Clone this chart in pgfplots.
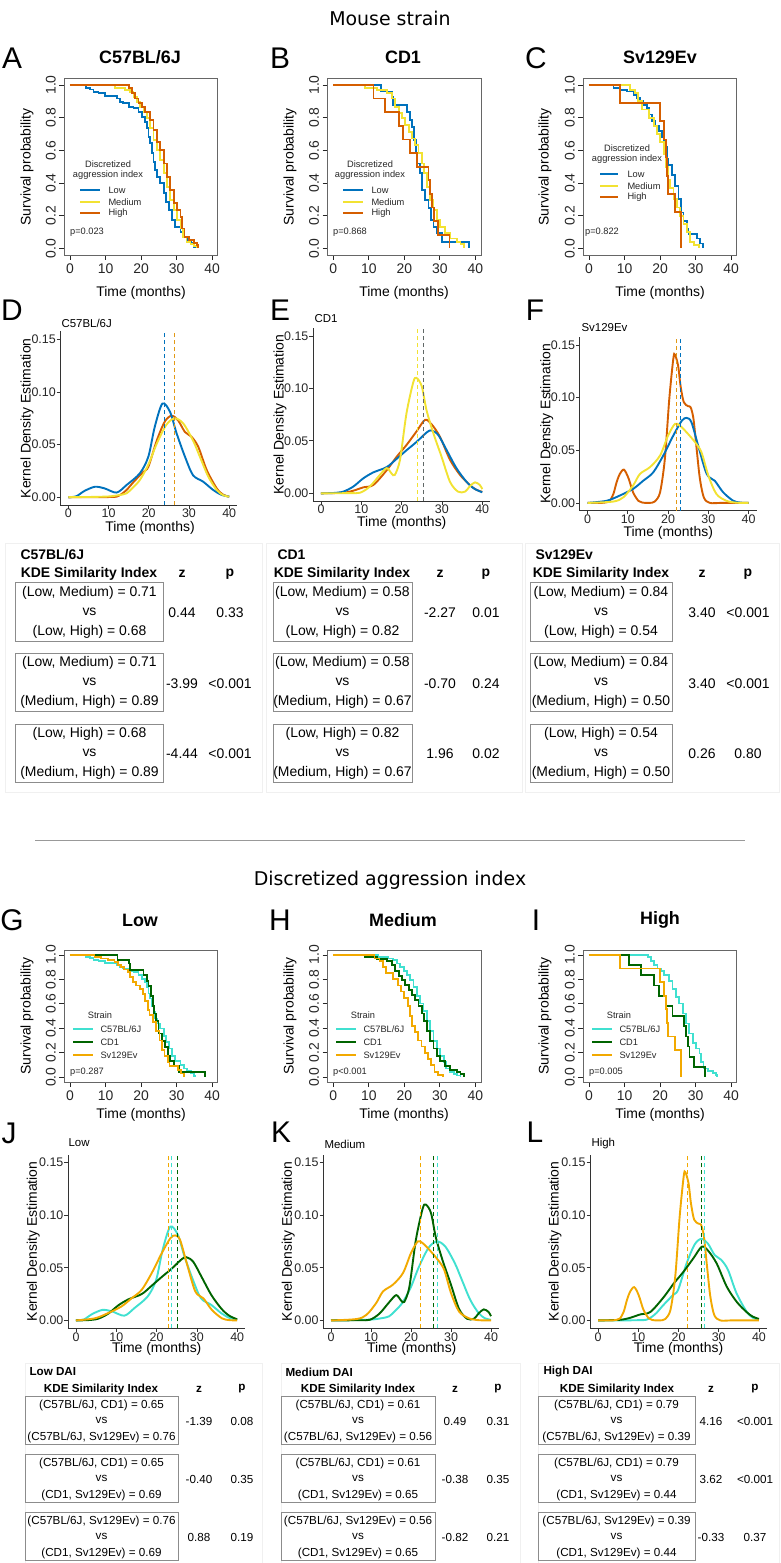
\documentclass[border=0pt]{standalone}
\usepackage{pgfplots}
\pgfplotsset{compat=1.18}
\usepackage{pgfplotstable}
\usepackage{fontspec}
\setmainfont{Liberation Sans}
\newfontfamily\dejavu{DejaVu Sans}
\newcommand{\fs}[1]{\fontsize{#1}{#1}\selectfont}

\definecolor{lowc}{RGB}{0,114,189}
\definecolor{medc}{RGB}{242,226,50}
\definecolor{highc}{RGB}{213,94,0}
\definecolor{c57c}{RGB}{64,224,208}
\definecolor{cd1c}{RGB}{0,100,0}
\definecolor{svc}{RGB}{242,169,0}

% ---------------- Kaplan-Meier curves (time, survival) ----------------
\pgfplotstableread{
t s
0 1
4.5 0.984
5.6 0.973
6.6 0.959
8 0.949
9.9 0.933
13.2 0.918
14.1 0.898
15 0.888
16.5 0.867
17.9 0.857
19.3 0.837
20.2 0.806
21.2 0.776
21.6 0.735
22.1 0.684
22.6 0.643
23.1 0.582
23.5 0.531
24 0.480
24.5 0.439
25.4 0.398
26.4 0.337
27 0.286
27.8 0.235
28.7 0.173
29.6 0.133
31.1 0.102
32 0.071
32.9 0.051
34.1 0.031
34.8 0.010
35.1 0
}\kmCL
\pgfplotstableread{
t s
0 1
12.7 0.980
15.5 0.970
16.9 0.959
17.9 0.929
18.8 0.898
19.8 0.867
20.7 0.837
21.6 0.796
22.6 0.735
23.5 0.663
24.5 0.602
25.4 0.541
26.4 0.459
27.3 0.378
28.2 0.296
29.2 0.235
30.1 0.173
31.1 0.122
31.8 0.071
32.8 0.041
33.9 0.027
34.8 0.014
35.8 0
}\kmCM
\pgfplotstableread{
t s
0 1
16.5 0.980
17.4 0.949
18.4 0.918
19.3 0.888
20.2 0.867
21.2 0.837
22.6 0.786
23.5 0.724
24.5 0.653
25.4 0.602
26.4 0.520
27.3 0.439
28.2 0.357
29.2 0.276
30.1 0.235
31.1 0.194
31.5 0.122
32.2 0.071
33.4 0.051
34.8 0.031
35.8 0.020
36 0
}\kmCH
\pgfplotstableread{
t s
0 1
13.4 0.96
16.5 0.929
16.9 0.878
20.7 0.837
21.6 0.786
22.1 0.745
22.8 0.663
23.3 0.582
23.7 0.520
24.3 0.459
24.9 0.357
25.9 0.296
26.8 0.245
27.5 0.173
28.2 0.133
29.2 0.092
30.6 0.041
38.1 0
}\kmDL
\pgfplotstableread{
t s
0 1
8.9 0.980
12.2 0.969
15.1 0.949
16.5 0.918
17.4 0.867
18.4 0.827
19.3 0.796
20.2 0.755
21.2 0.714
22.1 0.673
23.1 0.633
24 0.582
24.9 0.520
25.6 0.459
26.4 0.378
27.3 0.296
28.2 0.235
29.2 0.173
30.1 0.133
31.5 0.092
32.9 0.061
34.8 0.041
35.8 0.027
36.7 0
}\kmDM
\pgfplotstableread{
t s
0 1
11.3 0.917
14.6 0.833
18.4 0.750
19.6 0.667
21.6 0.583
23.5 0.500
26.8 0.417
27.3 0.333
27.8 0.250
28.3 0.167
29.5 0.083
32.7 0
}\kmDH
\pgfplotstableread{
t s
0 1
6.9 0.98
8.75 0.97
10.6 0.96
12.5 0.94
13.5 0.92
14.4 0.90
15.3 0.88
16.3 0.86
16.8 0.82
17.7 0.78
18.6 0.75
19.6 0.72
20.5 0.68
21.2 0.62
21.9 0.55
22.4 0.51
23.3 0.45
24.3 0.38
25.2 0.30
25.9 0.22
26.6 0.17
27.6 0.12
28 0.09
30.4 0.06
31.3 0.03
32.1 0
}\kmSL
\pgfplotstableread{
t s
0 1
11.6 0.97
13 0.95
13.9 0.90
14.9 0.85
16.8 0.80
18.2 0.75
19.1 0.70
20 0.65
21 0.58
21.6 0.50
22.2 0.42
22.9 0.37
23.8 0.30
24.8 0.25
25.7 0.20
26.6 0.15
27.6 0.10
28.5 0.04
29.5 0.02
30.9 0
}\kmSM
\pgfplotstableread{
t s
0 1
8.75 0.889
20 0.778
21.2 0.667
21.6 0.556
22 0.444
22.2 0.333
24.3 0.222
25.9 0
}\kmSH

% ---------------- Kernel density estimates (time, density) ----------------
\pgfplotstableread{
t d
0 0.0000
2 0.0010
4 0.0060
6.6 0.0100
9 0.0085
12 0.0045
14.5 0.0117
17.8 0.0228
19.9 0.0386
21.5 0.0670
23.4 0.0890
25.3 0.0810
26.9 0.0610
29 0.0386
31 0.0210
33.5 0.0149
36 0.0070
38 0.0025
40 0.0006
}\kdCL
\pgfplotstableread{
t d
0 0.0002
5 0.0003
10 0.0008
12.5 0.0020
14.5 0.0038
16 0.0090
17.8 0.0165
19.9 0.0310
22 0.0510
24.4 0.0690
26.5 0.0750
28.6 0.0700
31 0.0540
32.7 0.0386
34.8 0.0196
36.9 0.0070
38.5 0.0020
40 0.0006
}\kdCM
\pgfplotstableread{
t d
0 0
8 0.0001
10.5 0.0003
12 0.0006
13.2 0.0030
14.5 0.0070
16.1 0.0140
18.6 0.0240
19.9 0.0290
22 0.0540
24 0.0720
25.7 0.0775
27.3 0.0730
29 0.0620
30.6 0.0576
32.3 0.0480
34.4 0.0260
36.9 0.0085
38.5 0.0025
40 0.0006
}\kdCH
\pgfplotstableread{
t d
0 0
3 0.0003
5.5 0.0016
8 0.0064
10.5 0.0143
13 0.0200
16.3 0.0250
18.8 0.0330
21.2 0.0410
23.7 0.0490
26.2 0.0580
27.4 0.0600
29.1 0.0556
31.2 0.0410
33.6 0.0240
36.1 0.0110
38 0.0045
40 0.0010
}\kdDL
\pgfplotstableread{
t d
0 0
7 0.0002
9.7 0.0006
12.1 0.0064
14.6 0.0175
16.3 0.0240
17.5 0.0190
18.3 0.0175
19.6 0.0320
21.2 0.0760
22.9 0.1060
23.7 0.1100
25 0.1020
26.2 0.0790
27.9 0.0570
29.9 0.0350
32 0.0110
34 0.0016
35.7 0.0016
37 0.0070
38.2 0.0105
39.4 0.0080
40 0.0040
}\kdDM
\pgfplotstableread{
t d
0 0
5.5 0.0006
8 0.0025
10.5 0.0057
13 0.0080
16.3 0.0220
18.8 0.0350
21.2 0.0460
23.7 0.0590
25.8 0.0700
27.4 0.0660
29.5 0.0540
32 0.0320
34.5 0.0175
36.9 0.0080
38.5 0.0035
40 0.0014
}\kdDH
\pgfplotstableread{
t d
0 0
4.7 0.0020
8 0.0070
11.3 0.0133
13.8 0.0210
16.3 0.0290
18.8 0.0450
21.3 0.0640
23.4 0.0780
24.6 0.0807
25.8 0.0766
27.5 0.0540
29.6 0.0275
31.6 0.0210
33.7 0.0100
36.2 0.0020
38 0.0003
40 0
}\kdSL
\pgfplotstableread{
t d
0 0
6.4 0.0013
8.9 0.0054
11.3 0.0165
13 0.0275
15.5 0.0340
18 0.0450
20 0.0640
21.7 0.0750
22.9 0.0734
24.6 0.0670
26.7 0.0576
28.3 0.0480
30 0.0260
32 0.0085
34.5 0.0020
37 0.0002
40 0
}\kdSM
\pgfplotstableread{
t d
0 0
3 0
4 0.0002
4.7 0.0006
5.5 0.0020
6.4 0.0085
7.2 0.0196
8.0 0.0275
9.0 0.0316
10.1 0.0240
11.3 0.0100
12.6 0.0020
13.5 0.0004
14.7 0
16 0.0002
16.7 0.0013
18 0.0100
19.2 0.0420
20.3 0.0990
21.3 0.1370
21.7 0.1408
22.5 0.1300
23.1 0.1110
23.9 0.0956
25 0.0918
25.6 0.0908
26.3 0.0800
27.1 0.0510
27.9 0.0230
28.9 0.0050
30.4 0
33 0
36 0
40 0
}\kdSH

\pgfplotsset{
  km/.style={scale only axis, width=153.5bp, xmin=-1.6, xmax=41.6, ymin=-0.04, ymax=1.04,
    axis line style={black!60, line width=0.8bp},
    xtick={0,10,20,30,40}, xticklabels={0,10,20,30,40},
    ytick={0,0.2,0.4,0.6,0.8,1}, yticklabels={0.0,0.2,0.4,0.6,0.8,1.0},
    tick align=outside, xtick pos=bottom, ytick pos=left, major tick length=5bp,
    every tick/.style={black!85, line width=0.8bp},
    xticklabel style={font=\fs{14}, text=black!85},
    yticklabel style={font=\fs{14}, text=black!85, rotate=90, anchor=south},
    clip=true},
  kmline/.style={const plot, line width=1.8bp, no marks},
  kde/.style={scale only axis, ymin=-0.0075, ymax=0.1575, xmin=-2, xmax=42,
    axis x line*=bottom, axis y line*=left, axis line style={-, black!80, line width=0.8bp},
    xtick={0,10,20,30,40}, xticklabels={0,10,20,30,40},
    ytick={0,0.05,0.1,0.15}, yticklabels={0.00,0.05,0.10,0.15},
    tick align=outside, major tick length=3.5bp,
    every tick/.style={black!80, line width=0.8bp},
    xticklabel style={font=\fs{12.5}, text=black!85, inner sep=0.3bp},
    yticklabel style={font=\fs{12.5}, text=black!85, inner sep=0.8bp}},
  kdeline/.style={smooth, line width=1.9bp, no marks},
  med/.style={line width=1bp, dash pattern=on 4bp off 3bp, no marks},
}

\newcommand{\tbox}[8]{% xl xr ytop h line1 line3 oa ob
  \draw[black!45, line width=1bp] (#1,#3) rectangle (#2,#3+#4);
  \node at ({(#1+#2)/2},#3+#7) {#5};
  \node at ({(#1+#2)/2},#3+#4/2) {vs};
  \node at ({(#1+#2)/2},#3+#8) {#6};
}

\begin{document}
\begin{tikzpicture}
\path[use as bounding box] (0,0) rectangle (781bp,-1563bp);

% ================= KM top row =================
\begin{axis}[km, height=176.4bp, at={(64.3bp,-78.5bp)}, anchor=north west]
\addplot[kmline, lowc] table[x=t,y=s]{\kmCL};
\addplot[kmline, medc] table[x=t,y=s]{\kmCM};
\addplot[kmline, highc] table[x=t,y=s]{\kmCH};
\end{axis}
\begin{axis}[km, height=176.4bp, at={(327.6bp,-78.5bp)}, anchor=north west]
\addplot[kmline, lowc] table[x=t,y=s]{\kmDL};
\addplot[kmline, medc] table[x=t,y=s]{\kmDM};
\addplot[kmline, highc] table[x=t,y=s]{\kmDH};
\end{axis}
\begin{axis}[km, height=176.4bp, at={(583.3bp,-78.5bp)}, anchor=north west]
\addplot[kmline, lowc] table[x=t,y=s]{\kmSL};
\addplot[kmline, medc] table[x=t,y=s]{\kmSM};
\addplot[kmline, highc] table[x=t,y=s]{\kmSH};
\end{axis}

% ================= KDE top row =================
\begin{axis}[kde, width=177bp, height=173.8bp, at={(60.25bp,-331.4bp)}, anchor=north west]
\addplot[kdeline, highc] table[x=t,y=d]{\kdCH};
\addplot[kdeline, lowc] table[x=t,y=d]{\kdCL};
\addplot[kdeline, medc] table[x=t,y=d]{\kdCM};
\addplot[med, lowc] coordinates {(23.85,-0.0075) (23.85,0.1575)};
\addplot[med, medc] coordinates {(26.3,-0.0075) (26.3,0.1575)};
\addplot[med, highc, opacity=0.55] coordinates {(26.3,-0.0075) (26.3,0.1575)};
\end{axis}
\begin{axis}[kde, width=177.4bp, height=173.1bp, at={(312.9bp,-328.1bp)}, anchor=north west]
\addplot[kdeline, highc] table[x=t,y=d]{\kdDH};
\addplot[kdeline, lowc] table[x=t,y=d]{\kdDL};
\addplot[kdeline, medc] table[x=t,y=d]{\kdDM};
\addplot[med, medc] coordinates {(24.0,-0.0075) (24.0,0.1575)};
\addplot[med, lowc] coordinates {(25.55,-0.0075) (25.55,0.1575)};
\addplot[med, highc, opacity=0.45] coordinates {(25.55,-0.0075) (25.55,0.1575)};
\end{axis}
\begin{axis}[kde, width=177bp, height=173.8bp, at={(579.6bp,-337bp)}, anchor=north west]
\addplot[kdeline, highc] table[x=t,y=d]{\kdSH};
\addplot[kdeline, lowc] table[x=t,y=d]{\kdSL};
\addplot[kdeline, medc] table[x=t,y=d]{\kdSM};
\addplot[med, medc] coordinates {(22.0,-0.0075) (22.0,0.1575)};
\addplot[med, highc, opacity=0.55] coordinates {(22.0,-0.0075) (22.0,0.1575)};
\addplot[med, lowc] coordinates {(23.2,-0.0075) (23.2,0.1575)};
\end{axis}

% ================= KM bottom row =================
\begin{axis}[km, height=132bp, at={(64.3bp,-950bp)}, anchor=north west]
\addplot[kmline, c57c] table[x=t,y=s]{\kmCL};
\addplot[kmline, cd1c] table[x=t,y=s]{\kmDL};
\addplot[kmline, svc] table[x=t,y=s]{\kmSL};
\end{axis}
\begin{axis}[km, height=132bp, at={(327.6bp,-950bp)}, anchor=north west]
\addplot[kmline, c57c] table[x=t,y=s]{\kmCM};
\addplot[kmline, cd1c] table[x=t,y=s]{\kmDM};
\addplot[kmline, svc] table[x=t,y=s]{\kmSM};
\end{axis}
\begin{axis}[km, height=132bp, at={(583.3bp,-950bp)}, anchor=north west]
\addplot[kmline, c57c] table[x=t,y=s]{\kmCH};
\addplot[kmline, cd1c] table[x=t,y=s]{\kmDH};
\addplot[kmline, svc] table[x=t,y=s]{\kmSH};
\end{axis}

% ================= KDE bottom row =================
\begin{axis}[kde, width=177.4bp, height=173.8bp, at={(67.9bp,-1154.5bp)}, anchor=north west]
\addplot[kdeline, c57c] table[x=t,y=d]{\kdCL};
\addplot[kdeline, cd1c] table[x=t,y=d]{\kdDL};
\addplot[kdeline, svc] table[x=t,y=d]{\kdSL};
\addplot[med, svc] coordinates {(23.0,-0.0075) (23.0,0.1575)};
\addplot[med, c57c] coordinates {(23.8,-0.0075) (23.8,0.1575)};
\addplot[med, cd1c] coordinates {(25.1,-0.0075) (25.1,0.1575)};
\end{axis}
\begin{axis}[kde, width=176bp, height=173.8bp, at={(323bp,-1154.5bp)}, anchor=north west]
\addplot[kdeline, c57c] table[x=t,y=d]{\kdCM};
\addplot[kdeline, cd1c] table[x=t,y=d]{\kdDM};
\addplot[kdeline, svc] table[x=t,y=d]{\kdSM};
\addplot[med, svc] coordinates {(22.3,-0.0075) (22.3,0.1575)};
\addplot[med, cd1c] coordinates {(25.7,-0.0075) (25.7,0.1575)};
\addplot[med, c57c] coordinates {(26.5,-0.0075) (26.5,0.1575)};
\end{axis}
\begin{axis}[kde, width=177bp, height=173.8bp, at={(590bp,-1154.5bp)}, anchor=north west]
\addplot[kdeline, c57c] table[x=t,y=d]{\kdCH};
\addplot[kdeline, cd1c] table[x=t,y=d]{\kdDH};
\addplot[kdeline, svc] table[x=t,y=d]{\kdSH};
\addplot[med, svc] coordinates {(22.2,-0.0075) (22.2,0.1575)};
\addplot[med, cd1c] coordinates {(25.6,-0.0075) (25.6,0.1575)};
\addplot[med, c57c] coordinates {(26.4,-0.0075) (26.4,0.1575)};
\end{axis}

\begin{scope}[x=1bp, y=-1bp]
% section titles
\node[font=\dejavu\fs{19}] at (390,18) {Mouse strain};
\node[font=\dejavu\fs{19}] at (390,880) {Discretized aggression index};
\draw[black!40, line width=1bp] (35,840) -- (745,840);

% letters
\begin{scope}[font=\fs{30}]
\node at (12,58) {A}; \node at (280,58) {B}; \node at (536,58) {C};
\node at (12,310) {D}; \node at (280,310) {E}; \node at (535,310) {F};
\node at (12,920) {G}; \node at (280,920) {H}; \node at (536,920) {I};
\node at (9,1133) {J}; \node at (281,1132) {K}; \node at (535,1132) {L};
\end{scope}

% KM titles and labels
\begin{scope}[font=\bfseries\fs{18}]
\node at (140,57) {C57BL/6J}; \node at (403,57) {CD1}; \node at (660,57) {Sv129Ev};
\node at (140,920) {Low}; \node at (403,920) {Medium}; \node at (660,920) {High};
\end{scope}
\begin{scope}[font=\fs{14}]
\node at (141,293) {Time (months)}; \node at (404,293) {Time (months)}; \node at (660,293) {Time (months)};
\node[rotate=90] at (27,167) {Survival probability};
\node[rotate=90] at (290,167) {Survival probability};
\node[rotate=90] at (545,167) {Survival probability};
\node at (141,1115) {Time (months)}; \node at (404,1115) {Time (months)}; \node at (660,1115) {Time (months)};
\node[rotate=90] at (27,1016) {Survival probability};
\node[rotate=90] at (290,1016) {Survival probability};
\node[rotate=90] at (545,1016) {Survival probability};
\end{scope}

% KM legends
\begin{scope}[font=\fs{9.3}, text=black!85]
\node at (108,164) {Discretized}; \node at (108,175) {aggression index};
\draw[lowc, line width=1.8bp] (80,190) -- (100,190); \node[anchor=west] at (105,190) {Low};
\draw[medc, line width=1.8bp] (80,202) -- (100,202); \node[anchor=west] at (105,202) {Medium};
\draw[highc, line width=1.8bp] (80,213) -- (100,213); \node[anchor=west] at (105,213) {High};
\node at (87,232) {p=0.023};
\node at (370,164) {Discretized}; \node at (370,175) {aggression index};
\draw[lowc, line width=1.8bp] (343,190) -- (363,190); \node[anchor=west] at (368,190) {Low};
\draw[medc, line width=1.8bp] (343,202) -- (363,202); \node[anchor=west] at (368,202) {Medium};
\draw[highc, line width=1.8bp] (343,213) -- (363,213); \node[anchor=west] at (368,213) {High};
\node at (350,232) {p=0.868};
\node at (627,148) {Discretized}; \node at (627,159) {aggression index};
\draw[lowc, line width=1.8bp] (600,174) -- (618,174); \node[anchor=west] at (624,174) {Low};
\draw[medc, line width=1.8bp] (600,186) -- (618,186); \node[anchor=west] at (624,186) {Medium};
\draw[highc, line width=1.8bp] (600,197) -- (618,197); \node[anchor=west] at (624,197) {High};
\node at (602,232) {p=0.822};
% bottom
\node at (100,1015) {Strain};
\draw[c57c, line width=1.8bp] (73,1029) -- (93,1029); \node[anchor=west] at (97,1029) {C57BL/6J};
\draw[cd1c, line width=1.8bp] (73,1042) -- (93,1042); \node[anchor=west] at (97,1042) {CD1};
\draw[svc, line width=1.8bp] (73,1055) -- (93,1055); \node[anchor=west] at (97,1055) {Sv129Ev};
\node at (87,1072) {p=0.287};
\node at (363,1015) {Strain};
\draw[c57c, line width=1.8bp] (336,1029) -- (356,1029); \node[anchor=west] at (360,1029) {C57BL/6J};
\draw[cd1c, line width=1.8bp] (336,1042) -- (356,1042); \node[anchor=west] at (360,1042) {CD1};
\draw[svc, line width=1.8bp] (336,1055) -- (356,1055); \node[anchor=west] at (360,1055) {Sv129Ev};
\node at (350,1072) {p\textless0.001};
\node at (619,1015) {Strain};
\draw[c57c, line width=1.8bp] (592,1029) -- (612,1029); \node[anchor=west] at (616,1029) {C57BL/6J};
\draw[cd1c, line width=1.8bp] (592,1042) -- (612,1042); \node[anchor=west] at (616,1042) {CD1};
\draw[svc, line width=1.8bp] (592,1055) -- (612,1055); \node[anchor=west] at (616,1055) {Sv129Ev};
\node at (606,1072) {p=0.005};
\end{scope}

% KDE titles and labels
\begin{scope}[font=\fs{11.5}]
\node[anchor=west] at (58,323) {C57BL/6J};
\node[anchor=west] at (311,319) {CD1};
\node[anchor=west] at (578,328) {Sv129Ev};
\node[anchor=west] at (65,1143) {Low};
\node[anchor=west] at (321,1144) {Medium};
\node[anchor=west] at (588,1144) {High};
\end{scope}
\begin{scope}[font=\fs{14}]
\node at (150,528) {Time (months)};
\node at (401.7,523) {Time (months)};
\node at (668.3,532.5) {Time (months)};
\node[rotate=90] at (27,418.3) {Kernel Density Estimation};
\node[rotate=90] at (280,414.6) {Kernel Density Estimation};
\node[rotate=90] at (546.7,424) {Kernel Density Estimation};
\node at (156.7,1349) {Time (months)};
\node at (411.7,1349) {Time (months)};
\node at (678.5,1349) {Time (months)};
\node[rotate=90] at (33.3,1241.4) {Kernel Density Estimation};
\node[rotate=90] at (288.3,1241.4) {Kernel Density Estimation};
\node[rotate=90] at (555,1241.4) {Kernel Density Estimation};
\end{scope}

% ================= top tables =================
\draw[black!6, line width=1bp] (5,543) rectangle (262,792);
\draw[black!6, line width=1bp] (266,543) rectangle (522,792);
\draw[black!6, line width=1bp] (525,543) rectangle (779,792);
\begin{scope}[font=\fs{14}]
\node[anchor=west, font=\bfseries\fs{14}] at (17,555) {C57BL/6J};
\node[font=\bfseries\fs{14}] at (89,574) {KDE Similarity Index};
\node[font=\bfseries\fs{14}] at (182,574) {z};
\node[font=\bfseries\fs{14}] at (230,574) {p};
\tbox{15.7}{163.3}{582.7}{58.3}{(Low, Medium) = 0.71}{(Low, High) = 0.68}{10.3}{49.3}
\tbox{15.7}{163.3}{653}{58.3}{(Low, Medium) = 0.71}{(Medium, High) = 0.89}{10.3}{49.3}
\tbox{15.7}{163.3}{724}{58.3}{(Low, High) = 0.68}{(Medium, High) = 0.89}{10.3}{49.3}
\node at (182,613) {0.44}; \node at (230,613) {0.33};
\node at (182,684) {-3.99}; \node at (230,684) {\textless0.001};
\node at (182,754) {-4.44}; \node at (230,754) {\textless0.001};

\node[anchor=west, font=\bfseries\fs{14}] at (274,555) {CD1};
\node[font=\bfseries\fs{14}] at (342,574) {KDE Similarity Index};
\node[font=\bfseries\fs{14}] at (440,574) {z};
\node[font=\bfseries\fs{14}] at (486,574) {p};
\tbox{273}{412}{582.7}{58.3}{(Low, Medium) = 0.58}{(Low, High) = 0.82}{10.3}{49.3}
\tbox{273}{412}{653}{58.3}{(Low, Medium) = 0.58}{(Medium, High) = 0.67}{10.3}{49.3}
\tbox{273}{412}{724}{58.3}{(Low, High) = 0.82}{(Medium, High) = 0.67}{10.3}{49.3}
\node at (440,613) {-2.27}; \node at (486,613) {0.01};
\node at (440,684) {-0.70}; \node at (486,684) {0.24};
\node at (440,754) {1.96}; \node at (486,754) {0.02};

\node[anchor=west, font=\bfseries\fs{14}] at (532,555) {Sv129Ev};
\node[font=\bfseries\fs{14}] at (601,574) {KDE Similarity Index};
\node[font=\bfseries\fs{14}] at (702,574) {z};
\node[font=\bfseries\fs{14}] at (748,574) {p};
\tbox{530}{672}{582.7}{58.3}{(Low, Medium) = 0.84}{(Low, High) = 0.54}{10.3}{49.3}
\tbox{530}{672}{653}{58.3}{(Low, Medium) = 0.84}{(Medium, High) = 0.50}{10.3}{49.3}
\tbox{530}{672}{724}{58.3}{(Low, High) = 0.54}{(Medium, High) = 0.50}{10.3}{49.3}
\node at (702,613) {3.40}; \node at (748,613) {\textless0.001};
\node at (702,684) {3.40}; \node at (748,684) {\textless0.001};
\node at (702,754) {0.26}; \node at (748,754) {0.80};
\end{scope}

% ================= bottom tables =================
\draw[black!6, line width=1bp] (25,1363) rectangle (262,1563);
\draw[black!6, line width=1bp] (281,1363) rectangle (520,1563);
\draw[black!6, line width=1bp] (538,1363) rectangle (779,1563);
\begin{scope}[font=\fs{11.7}]
\node[anchor=west, font=\bfseries\fs{11.7}] at (26,1372) {Low DAI};
\node[font=\bfseries\fs{11.7}] at (101,1389) {KDE Similarity Index};
\node[font=\bfseries\fs{11.7}] at (199,1389) {z};
\node[font=\bfseries\fs{11.7}] at (242,1389) {p};
\tbox{25}{178}{1396}{48.3}{(C57BL/6J, CD1) = 0.65}{(C57BL/6J, Sv129Ev) = 0.76}{9}{41}
\tbox{25}{178}{1454}{48.3}{(C57BL/6J, CD1) = 0.65}{(CD1, Sv129Ev) = 0.69}{9}{41}
\tbox{25}{178}{1512}{48.3}{(C57BL/6J, Sv129Ev) = 0.76}{(CD1, Sv129Ev) = 0.69}{9}{41}
\node at (199,1421) {-1.39}; \node at (242,1421) {0.08};
\node at (199,1479) {-0.40}; \node at (242,1479) {0.35};
\node at (199,1537) {0.88}; \node at (242,1537) {0.19};

\node[anchor=west, font=\bfseries\fs{11.7}] at (282,1372) {Medium DAI};
\node[font=\bfseries\fs{11.7}] at (358,1389) {KDE Similarity Index};
\node[font=\bfseries\fs{11.7}] at (455,1389) {z};
\node[font=\bfseries\fs{11.7}] at (498,1389) {p};
\tbox{281}{435}{1396}{48.3}{(C57BL/6J, CD1) = 0.61}{(C57BL/6J, Sv129Ev) = 0.56}{9}{41}
\tbox{281}{435}{1454}{48.3}{(C57BL/6J, CD1) = 0.61}{(CD1, Sv129Ev) = 0.65}{9}{41}
\tbox{281}{435}{1512}{48.3}{(C57BL/6J, Sv129Ev) = 0.56}{(CD1, Sv129Ev) = 0.65}{9}{41}
\node at (455,1421) {0.49}; \node at (498,1421) {0.31};
\node at (455,1479) {-0.38}; \node at (498,1479) {0.35};
\node at (455,1537) {-0.82}; \node at (498,1537) {0.21};

\node[anchor=west, font=\bfseries\fs{11.7}] at (540,1372) {High DAI};
\node[font=\bfseries\fs{11.7}] at (617,1389) {KDE Similarity Index};
\node[font=\bfseries\fs{11.7}] at (711,1389) {z};
\node[font=\bfseries\fs{11.7}] at (755,1389) {p};
\tbox{538}{695}{1396}{48.3}{(C57BL/6J, CD1) = 0.79}{(C57BL/6J, Sv129Ev) = 0.39}{9}{41}
\tbox{538}{695}{1454}{48.3}{(C57BL/6J, CD1) = 0.79}{(CD1, Sv129Ev) = 0.44}{9}{41}
\tbox{538}{695}{1512}{48.3}{(C57BL/6J, Sv129Ev) = 0.39}{(CD1, Sv129Ev) = 0.44}{9}{41}
\node at (711,1421) {4.16}; \node at (755,1421) {\textless0.001};
\node at (711,1479) {3.62}; \node at (755,1479) {\textless0.001};
\node at (711,1537) {-0.33}; \node at (755,1537) {0.37};
\end{scope}
\end{scope}
\end{tikzpicture}
\end{document}
